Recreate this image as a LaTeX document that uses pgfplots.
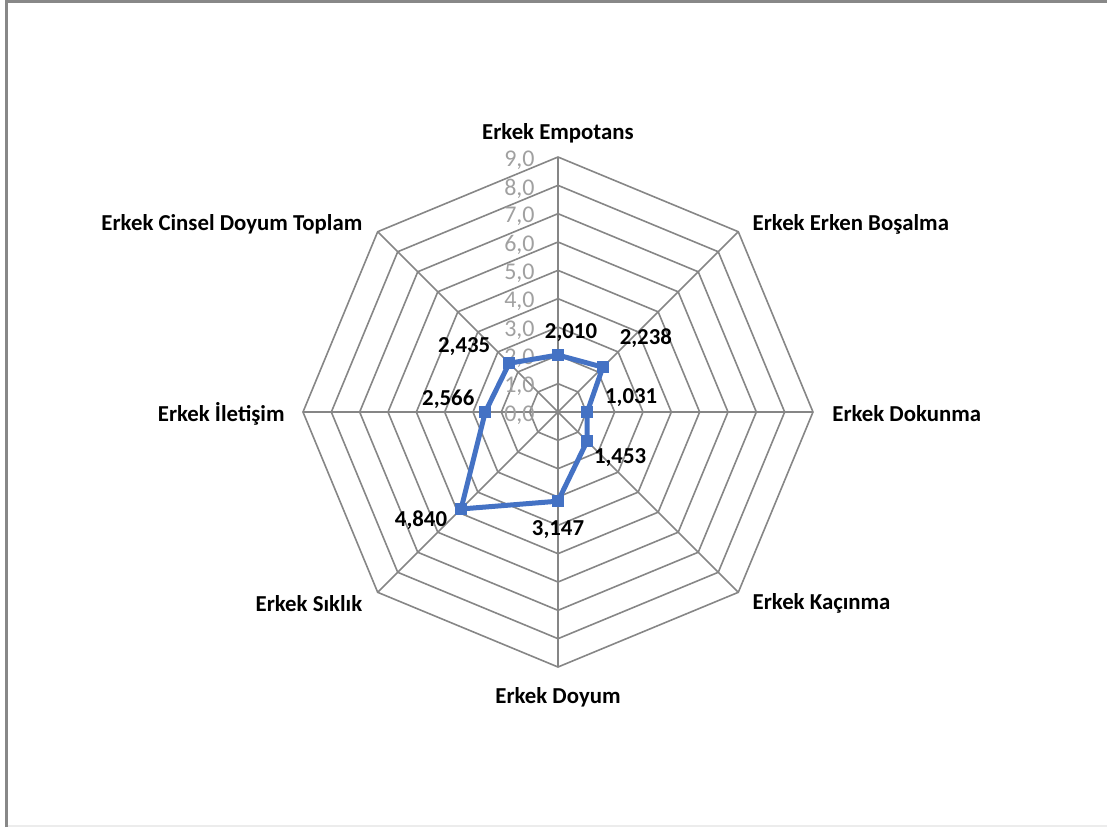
\documentclass[border=0pt]{standalone}
\usepackage{pgfplots}
\pgfplotsset{compat=1.18}
\usepgfplotslibrary{polar}
\usepackage{pgfplotstable}
\usepackage{fontspec}
\setmainfont{Carlito}

\definecolor{serieblue}{RGB}{68,114,196}
\definecolor{gridgray}{RGB}{134,134,134}
\definecolor{tickgray}{RGB}{160,160,160}
\definecolor{framegray}{RGB}{136,136,136}

% angle, value, label offset (pt)
\pgfplotstableread{
angle value dx dy
90  2.010  6.5  11.5
45  2.238  21.5 14.5
0   1.031  22   7
315 1.453  16.5 -8
270 3.147  0    -14
225 4.840  -20  -5.5
180 2.566  -18.5 6.5
135 2.435  -22.5 8.5
}\erkek

\begin{document}
\begin{tikzpicture}
\path[use as bounding box] (-279pt,-207.5pt) rectangle (274.5pt,206pt);
\draw[framegray, line width=1.5pt] (-275.5pt,-207.5pt) -- (-275.5pt,205.5pt) -- (274.5pt,205.5pt);
\draw[gray!15, line width=1pt] (-275pt,-207pt) -- (274.5pt,-207pt);

\begin{polaraxis}[
    at={(0,0)}, anchor=center,
    scale only axis, width=255pt, height=255pt,
    ymin=0, ymax=9,
    hide axis, clip=false,
    font=\fontsize{11}{13}\selectfont,
]
% polygon grid
\pgfplotsinvokeforeach{1,...,9}{
  \addplot[gridgray, line width=0.8pt, no marks, forget plot]
    coordinates {(0,#1) (45,#1) (90,#1) (135,#1) (180,#1) (225,#1) (270,#1) (315,#1)} -- cycle;
}
\pgfplotsinvokeforeach{0,45,...,315}{
  \addplot[gridgray, line width=0.8pt, no marks, forget plot]
    coordinates {(#1,0) (#1,9)};
}
% radial tick labels
\pgfplotsinvokeforeach{0,...,9}{
  \node[anchor=east, inner sep=0pt, text=tickgray, xshift=-11.5pt, yshift=-1.5pt,
        font=\fontsize{12}{14}\selectfont]
    at (axis cs:90,#1) {#1,0};
}
% data
\addplot[serieblue, line width=2.5pt, mark=square*, mark size=2.75pt,
    mark options={fill=serieblue, draw=serieblue, line width=0pt},
    point meta=explicit,
    visualization depends on={\thisrow{dx} \as \labdx},
    visualization depends on={\thisrow{dy} \as \labdy},
    nodes near coords,
    nodes near coords style={anchor=center, inner sep=0pt, text=black,
        font=\bfseries\fontsize{11.4}{13}\selectfont,
        xshift=\labdx pt, yshift=\labdy pt,
        /pgf/number format/.cd, fixed, fixed zerofill, precision=3, use comma,
        assume math mode=true},
] table[x=angle, y=value, meta=value] {\erkek} -- cycle;

% category labels
\begin{scope}[every node/.style={inner sep=0pt, font=\bfseries\fontsize{11.4}{13}\selectfont}]
\node[anchor=center, yshift=12pt] at (axis cs:90,9) {Erkek Empotans};
\node[anchor=west, xshift=7pt, yshift=3.5pt] at (axis cs:45,9) {Erkek Erken Boşalma};
\node[anchor=west, xshift=9.5pt, yshift=-1pt] at (axis cs:0,9) {Erkek Dokunma};
\node[anchor=west, xshift=7pt, yshift=-5.5pt] at (axis cs:315,9) {Erkek Kaçınma};
\node[anchor=center, yshift=-15pt] at (axis cs:270,9) {Erkek Doyum};
\node[anchor=east, xshift=-7.5pt, yshift=-5.5pt] at (axis cs:225,9) {Erkek Sıklık};
\node[anchor=east, xshift=-9pt, yshift=-1pt] at (axis cs:180,9) {Erkek İletişim};
\node[anchor=east, xshift=-7.5pt, yshift=3.5pt] at (axis cs:135,9) {Erkek Cinsel Doyum Toplam};
\end{scope}
\end{polaraxis}
\end{tikzpicture}
\end{document}
